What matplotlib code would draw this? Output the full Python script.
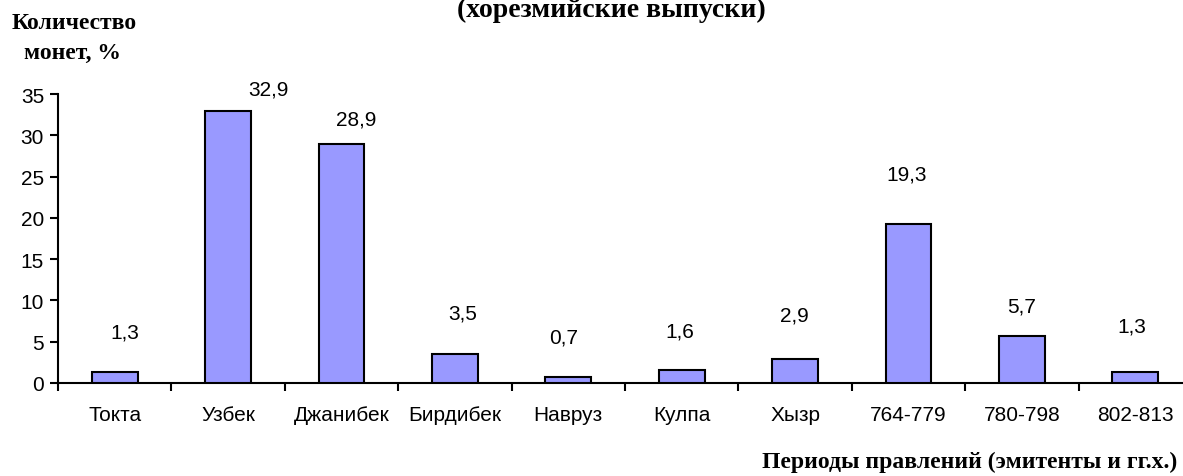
import matplotlib
matplotlib.use("Agg")
import matplotlib.pyplot as plt
import numpy as np

categories = ["Токта", "Узбек", "Джанибек", "Бирдибек", "Навруз", "Кулпа", "Хызр",
              "764-779", "780-798", "802-813"]
values = [1.3, 32.9, 28.9, 3.5, 0.7, 1.6, 2.9, 19.3, 5.7, 1.3]
value_labels = ["1,3", "32,9", "28,9", "3,5", "0,7", "1,6", "2,9", "19,3", "5,7", "1,3"]
yticks = [0, 5, 10, 15, 20, 25, 30, 35]

# label offsets in pixels (dx, dy from bar top to label centre)
label_dx = [10, 40, 15, 8, -5, -2, -1, -2, 0, -3]
label_dy = [40, 22, 25, 41, 40, 39, 44, 50, 30, 46]

W, H = 1183, 477
fig = plt.figure(figsize=(W / 100, H / 100), dpi=100)
ax_left, ax_right = 58, 1192
ax_bottom, ax_top = 384, 95
ax = fig.add_axes([ax_left / W, (H - ax_bottom) / H, (ax_right - ax_left) / W, (ax_bottom - ax_top) / H])

x = np.arange(len(categories))
ax.bar(x, values, width=0.405, color="#9999FF", edgecolor="black", linewidth=1.5, zorder=3)

ax.set_xlim(-0.5, len(categories) - 0.5)
ax.set_ylim(0, 35)
ax.set_yticks(yticks)
ax.set_yticklabels([str(v) for v in yticks], fontsize=15, family="Liberation Sans")
ax.tick_params(axis="y", direction="out", length=6, width=1.5, pad=4)

ax.set_xticks(np.arange(len(categories) + 1) - 0.5)
ax.set_xticklabels([])
ax.tick_params(axis="x", which="major", direction="out", length=6, width=1.5)
ax.set_xticks(x, minor=True)
ax.set_xticklabels(categories, minor=True, fontsize=15, family="Liberation Sans")
ax.tick_params(axis="x", which="minor", length=0, pad=16)

for s in ["top", "right"]:
    ax.spines[s].set_visible(False)
for s in ["left", "bottom"]:
    ax.spines[s].set_linewidth(1.5)

for xi, v, lab, dx, dy in zip(x, values, value_labels, label_dx, label_dy):
    ax.annotate(lab, xy=(xi, v), xytext=(dx * 0.72, dy * 0.72), textcoords="offset points",
                ha="center", va="center", fontsize=15, family="Liberation Sans")

serif = dict(family="Liberation Serif", weight="bold")
fig.text(611 / W, (H - 17) / H, "(хорезмийские выпуски)", ha="center", va="baseline", fontsize=20, **serif)
fig.text(74 / W, (H - 29) / H, "Количество", ha="center", va="baseline", fontsize=17, **serif)
fig.text(73 / W, (H - 59) / H, "монет, %", ha="center", va="baseline", fontsize=17, **serif)
fig.text(1177 / W, (H - 468) / H, "Периоды правлений (эмитенты и гг.х.)", ha="right", va="baseline",
         fontsize=17, **serif)

fig.savefig("out.png", dpi=100)
